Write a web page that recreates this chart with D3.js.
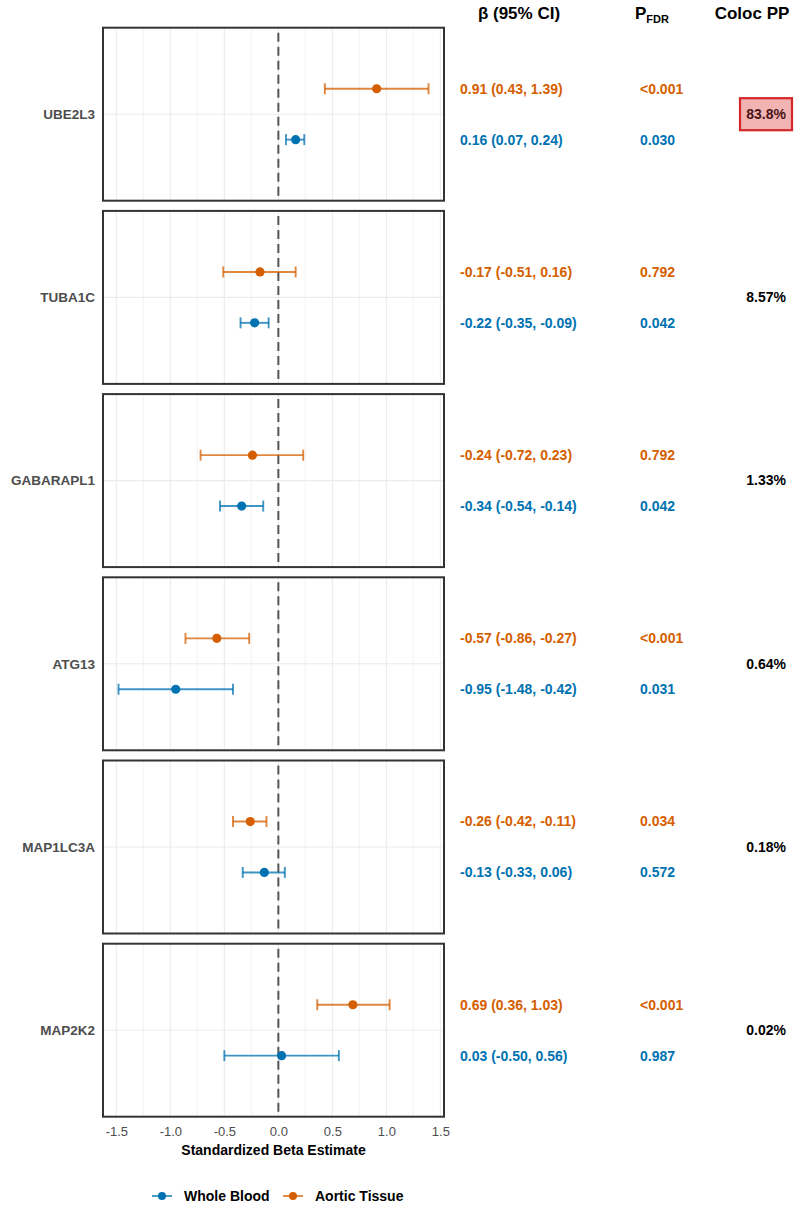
<!DOCTYPE html>
<html>
<head>
<meta charset="utf-8">
<script src="https://cdn.jsdelivr.net/npm/d3@7"></script>
<style>
  body { margin: 0; background: #fff; }
  text { font-family: "Liberation Sans", Arial, sans-serif; }
</style>
</head>
<body>
<script>
const genes = ["UBE2L3", "TUBA1C", "GABARAPL1", "ATG13", "MAP1LC3A", "MAP2K2"];
const tissues = ["Aortic Tissue", "Whole Blood"];

const aorticBeta = [0.91, -0.17, -0.24, -0.57, -0.26, 0.69];
const aorticLo   = [0.43, -0.51, -0.72, -0.86, -0.42, 0.36];
const aorticHi   = [1.39,  0.16,  0.23, -0.27, -0.11, 1.03];
const bloodBeta  = [0.16, -0.22, -0.34, -0.95, -0.13, 0.03];
const bloodLo    = [0.07, -0.35, -0.54, -1.48, -0.33, -0.50];
const bloodHi    = [0.24, -0.09, -0.14, -0.42,  0.06, 0.56];

const pAortic = ["<0.001", "0.792", "0.792", "<0.001", "0.034", "<0.001"];
const pBlood  = ["0.030", "0.042", "0.042", "0.031", "0.572", "0.987"];
const coloc   = ["83.8%", "8.57%", "1.33%", "0.64%", "0.18%", "0.02%"];
const colocHighlight = [true, false, false, false, false, false];

const xTicks = [-1.5, -1.0, -0.5, 0.0, 0.5, 1.0, 1.5];
const xMinor = [-1.25, -0.75, -0.25, 0.25, 0.75, 1.25];

const colors = { "Aortic Tissue": "#D55E00", "Whole Blood": "#0072B2" };

const w = 800, h = 1209;
const fmt = v => (v < 0 ? "-" : "") + Math.abs(v).toFixed(2);

// rows: one per gene x tissue
const rows = [];
genes.forEach((g, i) => {
  rows.push({ gene: g, tissue: "Aortic Tissue", beta: aorticBeta[i], lo: aorticLo[i], hi: aorticHi[i], p: pAortic[i] });
  rows.push({ gene: g, tissue: "Whole Blood", beta: bloodBeta[i], lo: bloodLo[i], hi: bloodHi[i], p: pBlood[i] });
});

const svg = d3.select("body").append("svg").attr("width", w).attr("height", h);

const xScale = d3.scaleLinear().domain([-1.6235, 1.5335]).range([103, 444]);
const panelScale = d3.scaleBand().domain(genes).range([27.7, 1116.7]).paddingInner(0.0557).paddingOuter(0);
const inner = d3.scalePoint().domain(tissues).range([0, panelScale.bandwidth()]).padding(1.2);
const yOf = d => panelScale(d.gene) + inner(d.tissue);

// panels
const panels = svg.selectAll("g.panel")
  .data(genes)
  .enter()
  .append("g")
  .attr("class", "panel")
  .attr("transform", d => "translate(0," + panelScale(d) + ")");

const ph = panelScale.bandwidth();

panels.selectAll("line.minor")
  .data(xMinor).enter().append("line")
  .attr("x1", d => xScale(d)).attr("x2", d => xScale(d))
  .attr("y1", 0).attr("y2", ph)
  .attr("stroke", "#F0F0F0").attr("stroke-width", 0.8);

panels.selectAll("line.major")
  .data(xTicks).enter().append("line")
  .attr("x1", d => xScale(d)).attr("x2", d => xScale(d))
  .attr("y1", 0).attr("y2", ph)
  .attr("stroke", "#EBEBEB").attr("stroke-width", 1.1);

panels.append("line")
  .attr("x1", xScale.range()[0]).attr("x2", xScale.range()[1])
  .attr("y1", ph / 2).attr("y2", ph / 2)
  .attr("stroke", "#EBEBEB").attr("stroke-width", 1.1);

panels.append("line")
  .attr("x1", xScale(0)).attr("x2", xScale(0))
  .attr("y1", 0).attr("y2", ph)
  .attr("stroke", "#555").attr("stroke-width", 2)
  .attr("stroke-dasharray", "9,5")
  .attr("stroke-dashoffset", -5);

panels.append("rect")
  .attr("x", xScale.range()[0]).attr("y", 0)
  .attr("width", xScale.range()[1] - xScale.range()[0]).attr("height", ph)
  .attr("fill", "none").attr("stroke", "#333").attr("stroke-width", 2);

panels.append("text")
  .attr("x", 95).attr("y", ph / 2).attr("dy", "0.35em")
  .attr("text-anchor", "end")
  .style("font-size", "13.5px").style("font-weight", "bold").style("fill", "#4D4D4D")
  .text(d => d);

// error bars
const bars = svg.selectAll("g.est")
  .data(rows).enter().append("g").attr("class", "est");

bars.append("line")
  .attr("x1", d => xScale(d.lo)).attr("x2", d => xScale(d.hi))
  .attr("y1", yOf).attr("y2", yOf)
  .attr("stroke", d => colors[d.tissue]).attr("stroke-width", 1.9).attr("opacity", 0.75);
bars.append("line")
  .attr("x1", d => xScale(d.lo)).attr("x2", d => xScale(d.lo))
  .attr("y1", d => yOf(d) - 5.5).attr("y2", d => yOf(d) + 5.5)
  .attr("stroke", d => colors[d.tissue]).attr("stroke-width", 1.9).attr("opacity", 0.75);
bars.append("line")
  .attr("x1", d => xScale(d.hi)).attr("x2", d => xScale(d.hi))
  .attr("y1", d => yOf(d) - 5.5).attr("y2", d => yOf(d) + 5.5)
  .attr("stroke", d => colors[d.tissue]).attr("stroke-width", 1.9).attr("opacity", 0.75);
bars.append("circle")
  .attr("cx", d => xScale(d.beta)).attr("cy", yOf).attr("r", 4.6)
  .attr("fill", d => colors[d.tissue]);

// text columns
svg.selectAll("text.ci")
  .data(rows).enter().append("text")
  .attr("x", 460).attr("y", yOf).attr("dy", "0.35em")
  .style("font-size", "14px").style("font-weight", "bold")
  .style("fill", d => colors[d.tissue])
  .text(d => fmt(d.beta) + " (" + fmt(d.lo) + ", " + fmt(d.hi) + ")");

svg.selectAll("text.pv")
  .data(rows).enter().append("text")
  .attr("x", 640).attr("y", yOf).attr("dy", "0.35em")
  .style("font-size", "14px").style("font-weight", "bold")
  .style("fill", d => colors[d.tissue])
  .text(d => d.p);

genes.forEach((g, i) => {
  const cy = panelScale(g) + ph / 2;
  if (colocHighlight[i]) {
    svg.append("rect")
      .attr("x", 740).attr("y", cy - 16).attr("width", 52).attr("height", 32)
      .attr("fill", "#F2B3B3").attr("stroke", "#D62728").attr("stroke-width", 2.2);
  }
  svg.append("text")
    .attr("x", 786).attr("y", cy).attr("dy", "0.35em")
    .attr("text-anchor", "end")
    .style("font-size", "14px").style("font-weight", "bold")
    .style("fill", colocHighlight[i] ? "#4A1515" : "#000")
    .text(coloc[i]);
});

// headers
svg.append("text").attr("x", 519).attr("y", 18.5).attr("text-anchor", "middle")
  .style("font-size", "17px").style("font-weight", "bold").text("β (95% CI)");
const ph1 = svg.append("text").attr("x", 635).attr("y", 18.5)
  .style("font-size", "17px").style("font-weight", "bold");
ph1.append("tspan").text("P");
ph1.append("tspan").attr("dy", 4).style("font-size", "11px").text("FDR");
svg.append("text").attr("x", 752).attr("y", 18.5).attr("text-anchor", "middle")
  .style("font-size", "17px").style("font-weight", "bold").text("Coloc PP");

// x axis
const xAxis = d3.axisBottom(xScale).tickValues(xTicks).tickSize(0).tickPadding(0)
  .tickFormat(d3.format(".1f"));
const axisG = svg.append("g")
  .attr("transform", "translate(0," + 1127 + ")")
  .call(xAxis);
axisG.select(".domain").remove();
axisG.selectAll("text")
  .style("font-size", "13px").style("fill", "#4D4D4D")
  .style("font-family", "'Liberation Sans', Arial, sans-serif")
  .text(d => d3.format(".1f")(d).replace("−", "-"));

svg.append("text")
  .attr("x", (xScale.range()[0] + xScale.range()[1]) / 2).attr("y", 1155)
  .attr("text-anchor", "middle")
  .style("font-size", "14px").style("font-weight", "bold")
  .text("Standardized Beta Estimate");

// legend
const legendItems = [
  { label: "Whole Blood", x: 152 },
  { label: "Aortic Tissue", x: 283 }
];
const legend = svg.append("g").attr("transform", "translate(0,1196)");
legendItems.forEach(it => {
  const c = colors[it.label];
  legend.append("line").attr("x1", it.x).attr("x2", it.x + 20).attr("y1", 0).attr("y2", 0)
    .attr("stroke", c).attr("stroke-width", 1.9).attr("opacity", 0.75);
  legend.append("circle").attr("cx", it.x + 10).attr("cy", 0).attr("r", 4).attr("fill", c);
  legend.append("text").attr("x", it.x + 32).attr("y", 0).attr("dy", "0.35em")
    .style("font-size", "14px").style("font-weight", "bold").text(it.label);
});
</script>
</body>
</html>
